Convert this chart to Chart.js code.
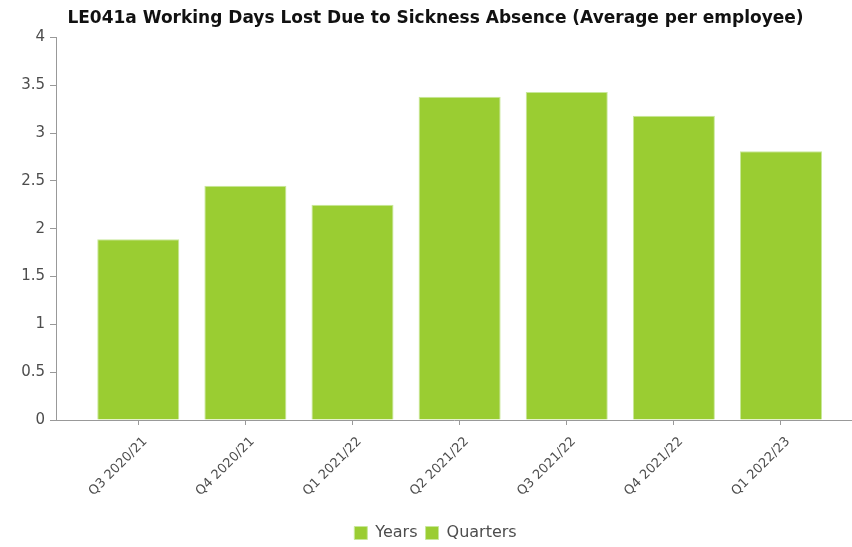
<!DOCTYPE html>
<html>
<head>
<meta charset="utf-8">
<script src="https://cdn.jsdelivr.net/npm/chart.js@4"></script>
<style>
  html, body { margin: 0; padding: 0; background: #fff; }
  #wrap { width: 852px; height: 547px; }
</style>
</head>
<body>
<div id="wrap"><canvas id="chart"></canvas></div>
<script>
const titleText = "LE041a Working Days Lost Due to Sickness Absence (Average per employee)";
const quarters = ["Q3 2020/21", "Q4 2020/21", "Q1 2021/22", "Q2 2021/22", "Q3 2021/22", "Q4 2021/22", "Q1 2022/23"];
const quarterValues = [1.89, 2.45, 2.25, 3.38, 3.43, 3.18, 2.81];
const yearValues = []; // no yearly figures shown
const yTicks = [0, 0.5, 1, 1.5, 2, 2.5, 3, 3.5, 4];

const green = "#9acd32";
const axisGrey = "#999";
const textGrey = "#4d4d4d";

const ctx = document.getElementById("chart").getContext("2d");
new Chart(ctx, {
  type: 'bar',
  data: {
    datasets: [
      {
        label: 'Years',
        data: yearValues,
        backgroundColor: green,
        borderColor: '#c8e89a',
        borderWidth: 1,
        grouped: false
      },
      {
        label: 'Quarters',
        data: quarterValues.map((v, i) => ({ x: i, y: v })),
        backgroundColor: green,
        borderColor: '#c8e89a',
        borderWidth: 1,
        barPercentage: 0.766,
        categoryPercentage: 1,
        grouped: false
      }
    ]
  },
  options: {
    responsive: true,
    maintainAspectRatio: false,
    animation: false,
    layout: { padding: { left: 19, right: 0, top: 0, bottom: -4 } },
    plugins: {
      title: {
        display: true,
        text: titleText,
        color: '#111',
        font: { family: 'DejaVu Sans', weight: 'bold', size: 17 },
        padding: { top: 8, bottom: 9 }
      },
      legend: {
        position: 'bottom',
        labels: {
          boxWidth: 13,
          boxHeight: 13,
          padding: 8,
          color: textGrey,
          font: { family: 'DejaVu Sans', size: 16 }
        }
      },
      tooltip: { enabled: false }
    },
    scales: {
      x: {
        type: 'linear',
        offset: false,
        min: -0.768,
        max: 6.663,
        afterBuildTicks: scale => {
          scale.ticks = quarters.map((q, i) => ({ value: i }));
        },
        afterFit: scale => { scale.height = 97; },
        grid: { display: true, offset: false, drawOnChartArea: false, drawTicks: true, tickLength: 5, color: axisGrey },
        border: { display: true, color: axisGrey },
        ticks: {
          autoSkip: false,
          minRotation: 45,
          maxRotation: 45,
          color: textGrey,
          padding: 9,
          labelOffset: 7,
          font: { family: 'DejaVu Sans', size: 13 },
          callback: v => quarters[v]
        }
      },
      y: {
        min: 0,
        max: 4,
        afterBuildTicks: scale => {
          scale.ticks = yTicks.map(v => ({ value: v }));
        },
        afterFit: scale => { scale.width = 37; },
        grid: { display: true, drawOnChartArea: false, drawTicks: true, tickLength: 6, color: axisGrey },
        border: { display: true, color: axisGrey },
        ticks: {
          color: textGrey,
          padding: 5,
          font: { family: 'DejaVu Sans', size: 15 },
          callback: v => String(v)
        }
      }
    }
  }
});
</script>
</body>
</html>
